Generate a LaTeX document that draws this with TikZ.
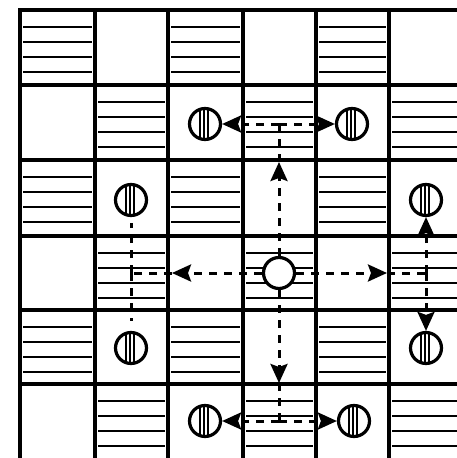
\documentclass[tikz,border=0pt]{standalone}
\usetikzlibrary{arrows.meta}
\tikzset{
  gridline/.style={line width=3.5pt},
  hatch/.style={line width=1.8pt},
  conn/.style={line width=3pt, dash pattern=on 8pt off 7pt},
  tip/.style={-{Stealth[length=19pt,width=17pt,inset=3pt]}},
  ocirc/.style={circle, draw, line width=3.2pt, minimum size=31pt, inner sep=0pt, fill=white},
  hcirc/.style={ocirc, path picture={
     \foreach \d in {-5,-1,3}
       \draw[line width=1.2pt] ([xshift=\d pt]path picture bounding box.north) -- ([xshift=\d pt]path picture bounding box.south);}}
}
\begin{document}
\begin{tikzpicture}[x=1pt,y=-1pt]
\useasboundingbox (0,0) rectangle (457,458);
\clip (0,0) rectangle (457,458);
% hatching of the checkerboard
\foreach \r/\ya in {0/10,1/85,2/160,3/236,4/310,5/384}{
  \foreach \c/\xa/\xb in {0/20/95,1/95/168,2/168/243,3/243/316,4/316/389,5/389/460}{
    \pgfmathtruncatemacro\hpar{mod(\r+\c,2)}
    \ifnum\hpar=0
      \foreach \k in {17,32,47,62}
        \draw[hatch] (\xa+3,\ya+\k) -- (\xb-3,\ya+\k);
    \fi
  }
}
% grid
\draw[line width=4.5pt] (20,8) -- (20,460);
\foreach \x in {95,168,243,316,389}
  \draw[gridline] (\x,10) -- (\x,460);
\foreach \y in {10,85,160,236,310,384}
  \draw[gridline] (18,\y) -- (460,\y);
% circles
\node[ocirc] (c) at (279,273) {};
\node[hcirc] (n12) at (205,124) {};
\node[hcirc] (n14) at (352,124) {};
\node[hcirc] (n21) at (131,200) {};
\node[hcirc] (n25) at (426,200) {};
\node[hcirc] (n41) at (131,348) {};
\node[hcirc] (n45) at (426,348) {};
\node[hcirc] (n52) at (205,421) {};
\node[hcirc] (n54) at (354,421) {};
% junction coordinates
\coordinate (up1) at (279,162);
\coordinate (upj) at (279,124);
\coordinate (dn1) at (279,383);
\coordinate (dnj) at (279,421);
\coordinate (rt1) at (387,273);
\coordinate (rtj) at (426,273);
\coordinate (lt1) at (172,273);
\coordinate (ltj) at (131,273);
% up branch
\draw[conn,tip] (c) -- (up1);
\draw[conn] (up1) -- (upj);
\draw[conn,tip] (upj) -- (n12);
\draw[conn,tip] (upj) -- (n14);
% down branch
\draw[conn,tip] (c) -- (dn1);
\draw[conn] (dn1) -- (dnj);
\draw[conn,tip] (dnj) -- (n52);
\draw[conn,tip] (dnj) -- (n54);
% right branch
\draw[conn,tip] (c) -- (rt1);
\draw[conn] (rt1) -- (rtj);
\draw[conn,tip] (rtj) -- (n25);
\draw[conn,tip] (rtj) -- (n45);
% left branch
\draw[conn,tip] (c) -- (lt1);
\draw[conn] (lt1) -- (ltj);
\draw[conn,shorten >=6pt] (ltj) -- (n21);
\draw[conn,shorten >=10pt] (ltj) -- (n41);
\end{tikzpicture}
\end{document}
